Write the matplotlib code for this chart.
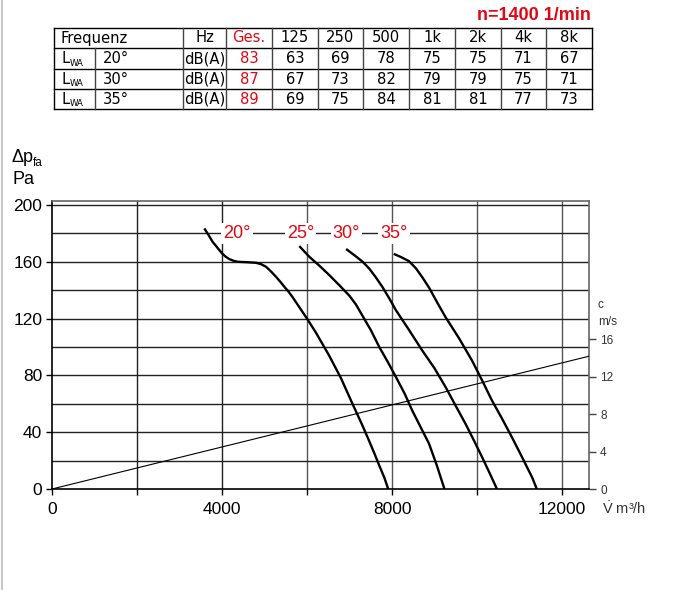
import numpy as np
import matplotlib
matplotlib.use('Agg')
import matplotlib.pyplot as plt
from matplotlib.lines import Line2D

plt.rcParams['font.family'] = ['Liberation Sans', 'DejaVu Sans']
plt.rcParams['mathtext.fontset'] = 'custom'
plt.rcParams['mathtext.rm'] = 'Liberation Sans'
NARROW = ['Liberation Sans Narrow', 'DejaVu Sans']
RED = '#e30613'

# ---------------- data ----------------
speed_label = 'n=1400 1/min'
freq_cols = ['Ges.', '125', '250', '500', '1k', '2k', '4k', '8k']
angles = ['20°', '30°', '35°']
lwa_20 = [83, 63, 69, 78, 75, 75, 71, 67]
lwa_30 = [87, 67, 73, 82, 79, 79, 75, 71]
lwa_35 = [89, 69, 75, 84, 81, 81, 77, 73]

# fan curves (V m3/h, dp Pa)
c20_x = [3584, 3680, 3780, 3890, 4000, 4090, 4173, 4270, 4369, 4580, 4800, 4920, 5035,
         5150, 5271, 5370, 5467, 5570, 5663, 5820, 6000, 6212, 6520, 6800, 7070, 7300,
         7460, 7600, 7700, 7820, 7910]
c20_p = [183.5, 179, 174, 170, 165.9, 163.5, 161.9, 160.7, 160, 159.7, 159.3, 158.3, 156.5,
         153.3, 149.4, 146, 142.4, 138.8, 135, 128, 120, 110, 94, 78, 60, 45,
         34, 24, 16.5, 8, 0]
c25_x = [5820, 6055, 6300, 6525, 6760, 7000, 7150, 7305, 7500, 7700, 7900, 8090, 8300,
         8480, 8700, 8870, 9050, 9234]
c25_p = [171, 163.5, 157, 150.6, 143.5, 136, 130, 122, 112, 100, 89.5, 79, 67,
         55, 42, 32, 17, 0]
c30_x = [6920, 7120, 7310, 7470, 7620, 7780, 7940, 8090, 8400, 8710, 9000, 9260, 9500,
         9730, 9930, 10120, 10300, 10469]
c30_p = [169, 164.5, 160, 155, 149, 142, 134, 126, 112, 97.6, 85, 71.8, 58.5,
         45.9, 34, 22.4, 11, 0]
c35_x = [8040, 8220, 8400, 8560, 8715, 8880, 9060, 9260, 9580, 9880, 10120, 10350, 10590,
         10820, 11000, 11150, 11300, 11406]
c35_p = [165.6, 163.2, 160.4, 155.5, 149, 141.4, 131.5, 121, 106, 90.6, 76.5, 62.4, 49.5,
         36.5, 26, 17, 8, 0]
curve_labels = ['20°', '25°', '30°', '35°']
label_x = [4345, 5847, 6929, 8047]

# outlet velocity line (V m3/h, c m/s)
vel_x = [0, 12635]
vel_c = [0, 14.2]

# ---------------- figure ----------------
W, H = 675, 590
fig = plt.figure(figsize=(W / 100, H / 100), dpi=100)
fx = lambda px: px / W
fy = lambda py: 1 - py / H

fig.add_artist(Line2D([fx(2), fx(2)], [0, 1], color='#c8c8c8', lw=1.5))

# ---- table ----
tx0, tx1, ty0, ty1 = 54, 592, 28, 109
tax = fig.add_axes([fx(tx0), fy(ty1), (tx1 - tx0) / W, (ty1 - ty0) / H])
tax.set_xlim(tx0, tx1); tax.set_ylim(ty1, ty0); tax.axis('off')
col_edges = [54, 95, 183, 226, 272, 318, 363, 409, 455, 501, 546, 592]
row_edges = [28, 48, 69, 89, 109]
for y in row_edges:
    tax.plot([tx0, tx1], [y, y], color='k', lw=1.0, clip_on=False)
for i, x in enumerate(col_edges):
    y_start = row_edges[1] if i == 1 else ty0
    c = 'k' if i in (0, len(col_edges) - 1) else '#444444'
    tax.plot([x, x], [y_start, ty1], color=c, lw=1.0, clip_on=False)
rc = [(row_edges[i] + row_edges[i + 1]) / 2 for i in range(4)]
tfs = 11.8
tkw = dict(va='center', fontsize=tfs, family=NARROW, fontstretch='condensed')
tax.text(61, rc[0], 'Frequenz', ha='left', **tkw)
tax.text(204.5, rc[0], 'Hz', ha='center', **tkw)
centers = [(col_edges[i] + col_edges[i + 1]) / 2 for i in range(3, 11)]
for j, lab in enumerate(freq_cols):
    tax.text(centers[j], rc[0], lab, ha='center', color=RED if j == 0 else 'k', **tkw)
for r, (ang, vals) in enumerate(zip(angles, [lwa_20, lwa_30, lwa_35])):
    y = rc[r + 1]
    tax.text(61.5, y, 'L', ha='left', **tkw)
    tax.text(69.5, y + 4.5, 'WA', ha='left', va='center', fontsize=6.8, family=NARROW,
             fontstretch='condensed')
    tax.text(103, y, ang, ha='left', **tkw)
    tax.text(204.5, y, 'dB(A)', ha='center', **tkw)
    for j, v in enumerate(vals):
        tax.text(centers[j], y, str(v), ha='center', color=RED if j == 0 else 'k', **tkw)

fig.text(fx(591), fy(15), speed_label, ha='right', va='center', fontsize=13,
         fontweight='bold', color=RED)

# ---- chart ----
ax = fig.add_axes([fx(52), fy(489), (589 - 52) / W, (489 - 201) / H])
ax.set_xlim(0, 12635)
ax.set_ylim(0, 202.8)
for x in [2000, 4000, 6000, 8000, 10000, 12000]:
    ax.axvline(x, color='#222222' if x < 5000 else '#555555', lw=1.0, zorder=1)
for y in range(20, 201, 20):
    ax.axhline(y, color='#222222', lw=1.0, zorder=1)

for xs, ps in [(c20_x, c20_p), (c25_x, c25_p), (c30_x, c30_p), (c35_x, c35_p)]:
    ax.plot(xs, ps, color='k', lw=1.7, solid_capstyle='butt', solid_joinstyle='round', zorder=3)
for lab, lx in zip(curve_labels, label_x):
    ax.text(lx, 180, lab, ha='center', va='center', fontsize=13, color=RED, zorder=4,
            bbox=dict(facecolor='white', edgecolor='none', pad=1.5))

ax.spines['left'].set_color('k'); ax.spines['bottom'].set_color('k')
ax.spines['top'].set_color('#666666'); ax.spines['right'].set_color('#666666')
for s in ax.spines.values():
    s.set_linewidth(1.2)
ax.set_xticks([0, 2000, 4000, 6000, 8000, 10000, 12000])
ax.set_xticklabels(['0', '', '4000', '', '8000', '', '12000'])
ax.set_yticks([0, 40, 80, 120, 160, 200])
ax.tick_params(axis='both', labelsize=12.5, length=4, width=1, color='k', pad=3)
ax.tick_params(axis='x', pad=5)

ax2 = ax.twinx()
ax2.set_ylim(0, 30.8)
ax2.plot(vel_x, vel_c, color='k', lw=0.8, zorder=2)
ax2.set_yticks([0, 4, 8, 12, 16])
ax2.tick_params(axis='y', labelsize=8.5, length=5, width=1, color='#444444',
                labelcolor='#333333', pad=3)
for s in ax2.spines.values():
    s.set_visible(False)

fig.text(fx(598), fy(305), 'c', ha='left', va='center', fontsize=8.5, color='#333333')
fig.text(fx(598), fy(322), 'm/s', ha='left', va='center', fontsize=8.5, color='#333333')
fig.text(fx(602), fy(509), r'$\dot{\mathrm{V}}$ m³/h', ha='left', va='center',
         fontsize=10.5, color='#333333')

fig.text(fx(12), fy(157), 'Δp', ha='left', va='center', fontsize=13)
fig.text(fx(33), fy(163), 'fa', ha='left', va='center', fontsize=8.5)
fig.text(fx(12), fy(179), 'Pa', ha='left', va='center', fontsize=13)

fig.savefig('out.png', dpi=100)
